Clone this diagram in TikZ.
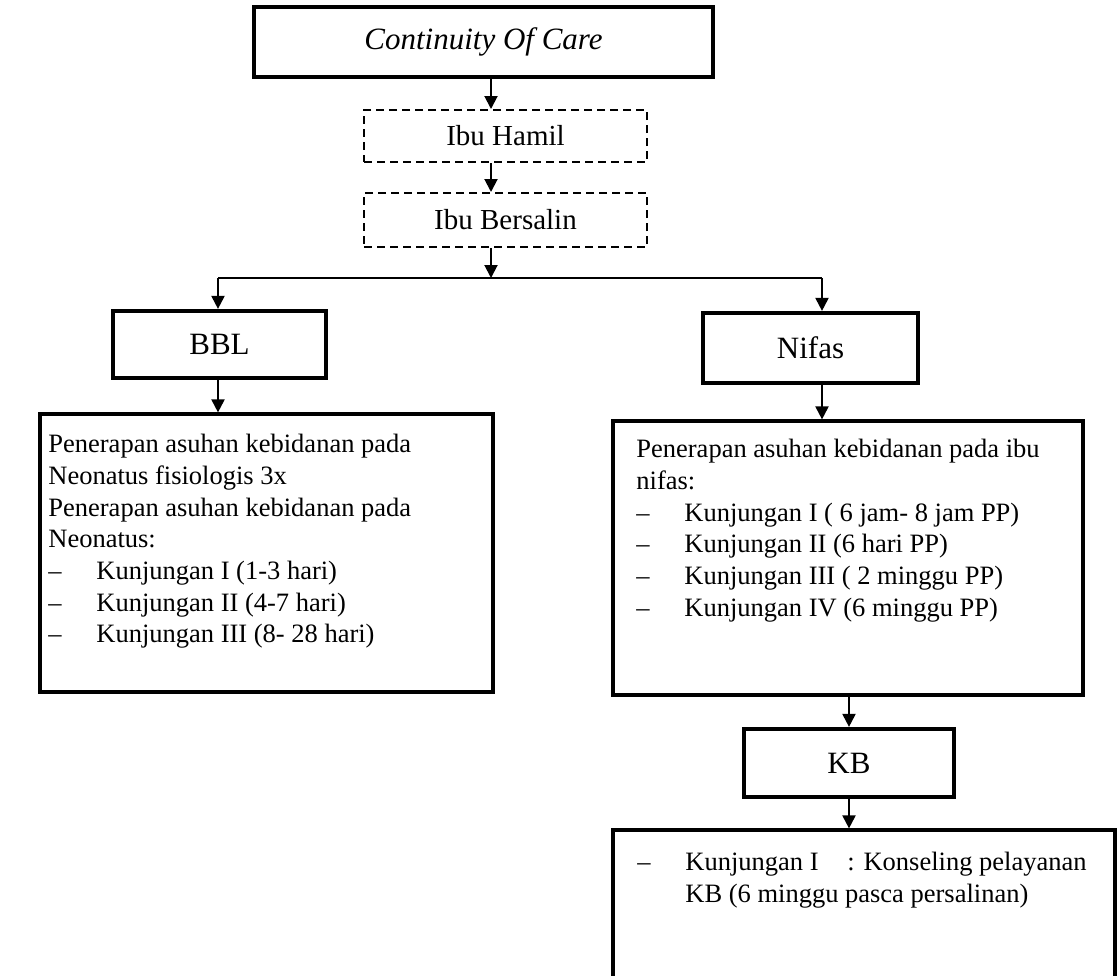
\documentclass[tikz,border=0pt]{standalone}
\usepackage{fontspec}
\setmainfont{Liberation Serif}
\usepackage{xcolor}
\usepackage{tikz}
\usetikzlibrary{arrows.meta}
\newcommand{\itemdash}{\makebox[24pt][l]{--}}

\begin{document}
\begin{tikzpicture}[x=0.5pt, y=-0.5pt,
    every node/.style={font=\fontsize{13.25pt}{15.85pt}\selectfont},
    stagebox/.style={draw, rectangle, line width=2.1pt, font=\fontsize{15.5pt}{18pt}\selectfont},
    phasebox/.style={draw, rectangle, dashed, dash pattern=on 4pt off 2.5pt, line width=1pt, minimum width=141.5pt, font=\fontsize{14.5pt}{17pt}\selectfont},
    listbox/.style={draw, rectangle, line width=1.6pt},
    listtext/.style={anchor=north west, inner sep=0pt, align=left},
    arr/.style={-{Triangle[length=6.5pt, width=6.5pt]}, line width=1pt}]
    \useasboundingbox (0,0) rectangle (1119,975);
    % Continuity of care
    \node[stagebox, minimum width=229.5pt, minimum height=35pt] (coc) at (483.5,42) {\itshape Continuity Of Care};
    % Ibu hamil, ibu bersalin
    \node[phasebox, minimum height=26pt] (hamil) at (505.5,136) {Ibu Hamil};
    \node[phasebox, minimum height=27pt] (bersalin) at (505.5,220) {Ibu Bersalin};
    % Split
    \coordinate (split) at (491,278);
    \coordinate (splitL) at (218,278);
    \coordinate (splitR) at (822,278);
    \draw[arr] (coc.south -| split) -- (hamil.north -| split);
    \draw[arr] (hamil.south -| split) -- (bersalin.north -| split);
    \draw[arr] (bersalin.south -| split) -- (split);
    \draw[line width=0.8pt] (splitL) -- (splitR);
    % BBL
    \node[stagebox, minimum width=106.5pt, minimum height=33.5pt] (bbl) at (219.5,344.5) {BBL};
    \node[listbox, minimum width=226.5pt, minimum height=139pt] (bbltxt) at (266.5,553) {};
    \node[listtext] (bbllist) at (48,434) {Penerapan asuhan kebidanan pada\\
        Neonatus fisiologis 3x\\
        Penerapan asuhan kebidanan pada\\
        Neonatus:\\
        \itemdash Kunjungan I (1-3 hari)\\
        \itemdash Kunjungan II (4-7 hari)\\
        \itemdash Kunjungan III (8- 28 hari)};
    \draw[arr] (splitL) -- (splitL |- bbl.north);
    \draw[arr] (bbl.south -| splitL) -- (bbltxt.north -| splitL);
    % Nifas
    \node[stagebox, minimum width=107.5pt, minimum height=35pt] (nifas) at (810.5,348) {Nifas};
    \node[listbox, minimum width=235pt, minimum height=137pt] (nifastxt) at (848,558) {};
    \node[listtext] (nifaslist) at (636,439) {Penerapan asuhan kebidanan pada ibu\\
        nifas:\\
        \itemdash Kunjungan I ( 6 jam- 8 jam PP)\\
        \itemdash Kunjungan II (6 hari PP)\\
        \itemdash Kunjungan III ( 2 minggu PP)\\
        \itemdash Kunjungan IV (6 minggu PP)};
    \draw[arr] (splitR) -- (splitR |- nifas.north);
    \draw[arr] (nifas.south -| splitR) -- (nifastxt.north -| splitR);
    % KB
    \node[stagebox, minimum width=105pt, minimum height=34pt] (kb) at (849,763) {KB};
    \node[listbox, minimum width=251pt, minimum height=75pt] (kbtxt) at (864,905) {};
    \node[listtext] (kblist) at (637,852) {\itemdash\makebox[81pt][l]{Kunjungan I}: Konseling pelayanan\\
        \hspace*{24pt}KB (6 minggu pasca persalinan)};
    \draw[arr] (nifastxt.south -| kb) -- (kb);
    \draw[arr] (kb) -- (kb |- kbtxt.north);
\end{tikzpicture}
\end{document}
